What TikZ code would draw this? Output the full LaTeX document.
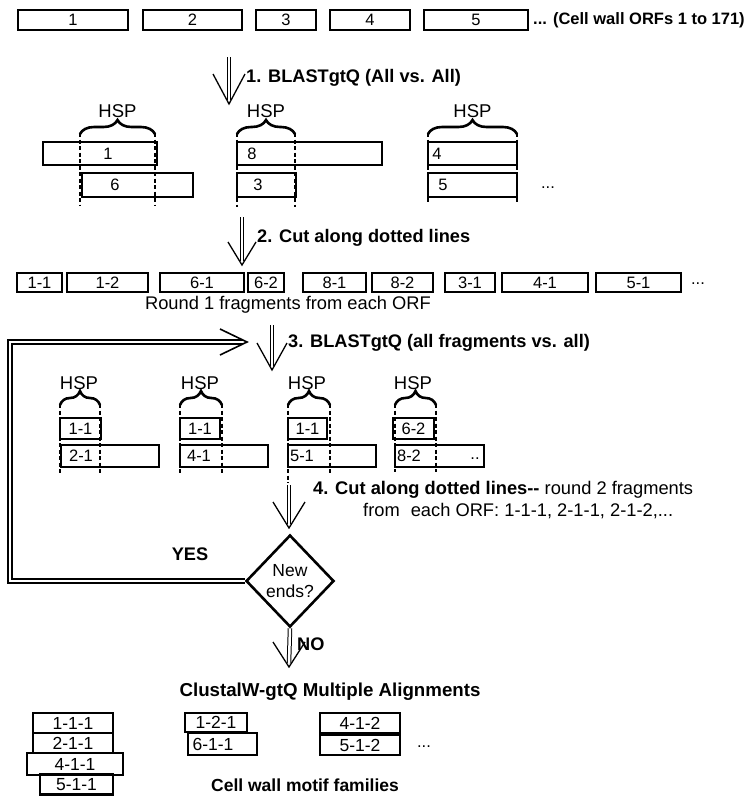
\documentclass[tikz,border=0pt]{standalone}
\usepackage{fontspec}
\setmainfont{Liberation Sans}
\usetikzlibrary{shapes.geometric,decorations.pathreplacing}

\tikzset{
  orf/.style={draw, line width=2.7pt, minimum height=20pt, inner sep=0pt, font=\fontsize{16.5}{18}\selectfont},
  lbl/.style={inner sep=0pt, font=\fontsize{16.5}{18}\selectfont},
  hsp/.style={inner sep=0pt, font=\fontsize{18.5}{20}\selectfont},
  steptext/.style={inner sep=0pt, anchor=west, font=\fontsize{18.2}{20}\selectfont\bfseries},
  note/.style={inner sep=0pt, font=\fontsize{18.3}{20}\selectfont},
  cutline/.style={line width=2.8pt, dash pattern=on 4pt off 2.5pt},
  hspbrace/.style={decorate, decoration={brace, amplitude=14pt}, line width=2.6pt},
  shaft/.style={double, double distance=2.5pt, line width=1pt},
  barb/.style={line width=1.3pt},
  loopline/.style={double, double distance=2pt, line width=2pt}
}
% #1 start, #2 tip, #3 half width of the head, #4 length of the head
\newcommand{\flowdown}[4]{%
  \draw[shaft] (#1) -- ([yshift=4pt]#2);
  \draw[barb] (#2) ++(-#3,-#4) -- (#2) -- ++(#3,-#4);}

\begin{document}
\begin{tikzpicture}[x=1pt, y=-1pt]
\useasboundingbox (0,0) rectangle (748,796);

% cell wall ORFs
\node[orf, minimum width=110] (orf1) at (73,20) {1};
\node[orf, minimum width=99] (orf2) at (192.5,20) {2};
\node[orf, minimum width=60] (orf3) at (286,20) {3};
\node[orf, minimum width=80] (orf4) at (370,20) {4};
\node[orf, minimum width=104] (orf5) at (476,20) {5};
\node[steptext, font=\fontsize{16.5}{18}\selectfont\bfseries] (orfnote) at (533,20) {... (Cell wall ORFs 1 to 171)};

\coordinate (s1top) at (229,57);
\coordinate (s1tip) at (229,104);
\flowdown{s1top}{s1tip}{16}{30}
\node[steptext] (step1) at (246,78) {1. BLASTgtQ (All vs. All)};

% round 1 HSPs
\node[hsp] (hsp1) at (117.5,111) {HSP};
\node[hsp] (hsp2) at (266,111) {HSP};
\node[hsp] (hsp3) at (472.5,111) {HSP};
\draw[hspbrace] (80,134) -- (155,134);
\draw[hspbrace] (237,134) -- (295,134);
\draw[hspbrace] (428,134) -- (517,134);

\node[orf, minimum width=114, minimum height=23] (hit1) at (100,153.5) {};
\node[lbl] (hit1l) at (108,153.5) {1};
\node[orf, minimum width=111, minimum height=24] (hit6) at (137.5,185) {};
\node[lbl] (hit6l) at (115,185) {6};
\node[orf, minimum width=145, minimum height=23] (hit8) at (309.5,153.5) {};
\node[lbl] (hit8l) at (252,153.5) {8};
\node[orf, minimum width=59, minimum height=24] (hit3) at (266.5,185) {};
\node[lbl] (hit3l) at (258,185) {3};
\node[orf, minimum width=89, minimum height=23] (hit4) at (472.5,153.5) {};
\node[lbl] (hit4l) at (437,153.5) {4};
\node[orf, minimum width=89, minimum height=24] (hit5) at (472.5,185) {};
\node[lbl] (hit5l) at (443,185) {5};
\node[lbl] (hitmore) at (548,188) {...};
\foreach \cx/\cy in {80/206, 155/206, 237/207, 295/207, 428/202, 517/202}
  \draw[cutline] (\cx,133) -- (\cx,\cy);

\coordinate (s2top) at (242,217);
\coordinate (s2tip) at (242,265);
\flowdown{s2top}{s2tip}{14}{23}
\node[steptext] (step2) at (257,238) {2. Cut along dotted lines};

% round 1 fragments
\foreach \n/\c/\w [count=\i] in {1-1/39.5/45, 1-2/107.5/81, 6-1/202/84, 6-2/266/36, 8-1/334.5/63,
    8-2/402.5/61, 3-1/470/50, 4-1/545/86, 5-1/638.5/85}
  \node[orf, minimum width=\w, minimum height=19] (frag\i) at (\c,282.5) {\n};
\node[lbl] (fragmore) at (698,284) {...};
\node[note] (round1) at (288,305) {Round 1 fragments from each ORF};

\coordinate (s3top) at (272,325);
\coordinate (s3tip) at (272,370);
\flowdown{s3top}{s3tip}{15}{27}
\node[steptext] (step3) at (288,343) {3. BLASTgtQ (all fragments vs. all)};

% round 2 HSPs
\foreach \m/\l/\r [count=\i] in {79/60/100, 200/180/222, 307/288/330, 413/395/436} {
  \node[hsp] (hspr\i) at (\m,383) {HSP};
  \draw[hspbrace] (\l,405) -- (\r,405);
}
\node[orf, minimum width=41, minimum height=21] (ra1) at (80.5,428.5) {1-1};
\node[orf, minimum width=40, minimum height=21] (ra2) at (200,428.5) {1-1};
\node[orf, minimum width=39, minimum height=21] (ra3) at (307.5,428.5) {1-1};
\node[orf, minimum width=41, minimum height=21] (ra4) at (413.5,428.5) {6-2};
\node[orf, minimum width=98, minimum height=22] (rb1) at (110,456) {};
\node[lbl] (rb1l) at (81,456) {2-1};
\node[orf, minimum width=88, minimum height=22] (rb2) at (224,456) {};
\node[lbl] (rb2l) at (199,456) {4-1};
\node[orf, minimum width=88, minimum height=22] (rb3) at (332,456) {};
\node[lbl] (rb3l) at (302,456) {5-1};
\node[orf, minimum width=89, minimum height=22] (rb4) at (439.5,456) {};
\node[lbl] (rb4l) at (409,456) {8-2};
\node[lbl] (rb4m) at (475,459) {..};
\foreach \cx/\cy in {60/475, 100/475, 180/475, 222/475, 288/483, 330/475, 395/472, 436/472}
  \draw[cutline] (\cx,404) -- (\cx,\cy);

\coordinate (s4top) at (289,485);
\coordinate (s4tip) at (289,528);
\flowdown{s4top}{s4tip}{16}{26}
\node[note, anchor=west] (step4) at (313,490) {\bfseries 4. Cut along dotted lines{-}{-}\mdseries{} round 2 fragments};
\node[note, anchor=west] (step4b) at (363,511) {from\hspace{0.6em}each ORF: 1-1-1, 2-1-1, 2-1-2,...};

% decision
\node[diamond, draw, line width=2.6pt, aspect=1, minimum width=88pt, minimum height=92pt, inner sep=0pt,
  align=center, font=\fontsize{17.5}{21}\selectfont] (ends) at (290,581) {New\\ends?};
\node[steptext, anchor=center] (yes) at (190,554) {YES};
\coordinate (loopin) at (247,342);
\draw[loopline] (ends.west) -| (10,342) -- ([xshift=-4pt]loopin);
\draw[barb, line width=1.6pt] (loopin) ++(-27,-13) -- (loopin) -- ++(-27,13);

\coordinate (notip) at (289,667);
\flowdown{ends.south}{notip}{16}{25}
\node[steptext] (no) at (297,644) {NO};
\node[steptext, anchor=center, font=\fontsize{18.7}{20}\selectfont\bfseries] (clustal) at (330,692) {ClustalW-gtQ Multiple Alignments};

% motif families
\node[orf, minimum width=80, font=\fontsize{17.5}{18}\selectfont] (m111) at (73,723) {1-1-1};
\node[orf, minimum width=80, font=\fontsize{17.5}{18}\selectfont] (m211) at (73,743) {2-1-1};
\node[orf, minimum width=96, minimum height=22, font=\fontsize{17.5}{18}\selectfont] (m411) at (75,764) {4-1-1};
\node[orf, minimum width=73, font=\fontsize{17.5}{18}\selectfont] (m511) at (76.5,784.5) {5-1-1};
\node[orf, minimum width=62, minimum height=19, font=\fontsize{17.5}{18}\selectfont] (m121) at (216,722.5) {1-2-1};
\node[orf, minimum width=69, minimum height=22] (m611) at (222.5,744) {};
\node[lbl, font=\fontsize{17.5}{18}\selectfont] (m611l) at (213,744) {6-1-1};
\node[orf, minimum width=80, font=\fontsize{17.5}{18}\selectfont] (m412) at (360,723) {4-1-2};
\node[orf, minimum width=80, font=\fontsize{17.5}{18}\selectfont] (m512) at (360,745) {5-1-2};
\node[lbl] (mmore) at (424,747) {...};
\node[steptext, anchor=center, font=\fontsize{17.5}{20}\selectfont\bfseries] (families) at (305,785) {Cell wall motif families};
\end{tikzpicture}
\end{document}
